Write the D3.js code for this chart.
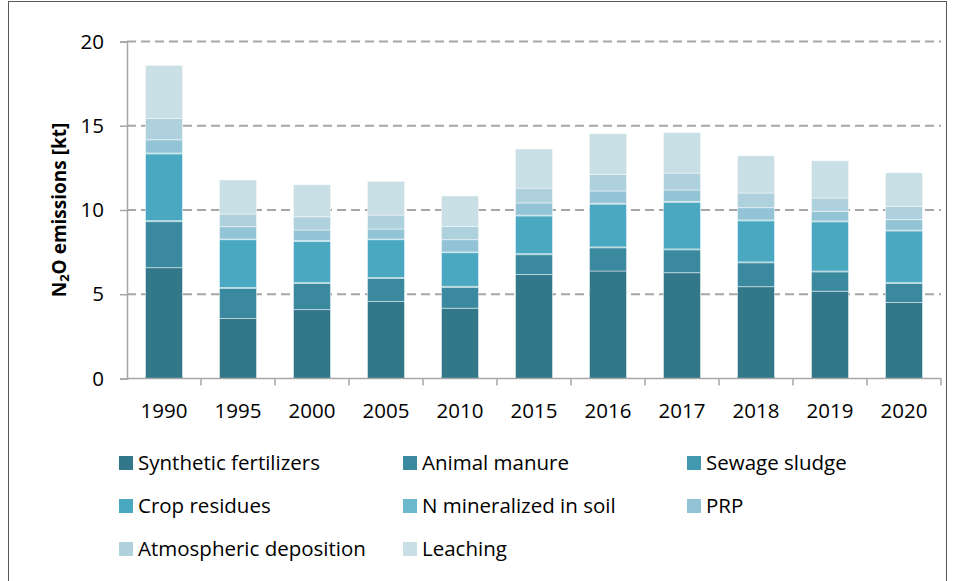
<!DOCTYPE html>
<html>
<head>
<meta charset="utf-8">
<script src="https://cdn.jsdelivr.net/npm/d3@7"></script>
<style>
  html, body { margin: 0; padding: 0; background: #fff; }
  svg { display: block; font-family: "Open Sans", "Noto Sans", sans-serif; }
</style>
</head>
<body>
<svg id="chart" width="954" height="581"></svg>
<script>
// Agricultural N2O emissions by source, kt
const years = ["1990", "1995", "2000", "2005", "2010", "2015", "2016", "2017", "2018", "2019", "2020"];
const syntheticFertilizers = [6.58, 3.56, 4.09, 4.57, 4.17, 6.17, 6.38, 6.28, 5.45, 5.18, 4.51];
const animalManure        = [2.73, 1.79, 1.55, 1.37, 1.24, 1.18, 1.38, 1.36, 1.42, 1.15, 1.13];
const sewageSludge        = [0.06, 0.05, 0.05, 0.05, 0.06, 0.06, 0.05, 0.05, 0.05, 0.05, 0.05];
const cropResidues        = [3.96, 2.84, 2.45, 2.25, 2.00, 2.24, 2.54, 2.77, 2.44, 2.92, 3.07];
const nMineralized        = [0.05, 0.04, 0.04, 0.04, 0.04, 0.05, 0.05, 0.05, 0.05, 0.05, 0.05];
const prp                 = [0.79, 0.73, 0.63, 0.59, 0.73, 0.72, 0.73, 0.68, 0.73, 0.57, 0.62];
const atmDeposition       = [1.26, 0.75, 0.79, 0.83, 0.79, 0.88, 0.98, 1.00, 0.87, 0.79, 0.79];
const leaching            = [3.15, 2.02, 1.90, 2.00, 1.80, 2.32, 2.42, 2.41, 2.21, 2.21, 1.99];

const seriesNames = ["Synthetic fertilizers", "Animal manure", "Sewage sludge", "Crop residues",
                     "N mineralized in soil", "PRP", "Atmospheric deposition", "Leaching"];
const seriesValues = [syntheticFertilizers, animalManure, sewageSludge, cropResidues,
                      nMineralized, prp, atmDeposition, leaching];
const seriesColors = ["#33778a", "#3a899e", "#4199af", "#4aa8c1",
                      "#6bb7cc", "#93c4d5", "#afd1dd", "#c9dfe6"];
const yTicks = [0, 5, 10, 15, 20];

const rows = years.map((y, i) => {
  const r = { year: y };
  seriesNames.forEach((n, k) => { r[n] = seriesValues[k][i]; });
  return r;
});

const svg = d3.select("#chart");
const plot = { left: 127, right: 941, top: 41.5, bottom: 378.5 };
const fontSize = 20.5;

// outer frame
svg.append("rect")
  .attr("x", 8.5).attr("y", 1.5).attr("width", 938).attr("height", 590)
  .attr("fill", "none").attr("stroke", "#595959").attr("stroke-width", 1);

const x = d3.scaleBand().domain(years).range([plot.left, plot.right]).paddingInner(0.5).paddingOuter(0.25);
const y = d3.scaleLinear().domain([0, 20]).range([plot.bottom, plot.top]);

// dashed gridlines
svg.append("g").selectAll("line")
  .data(yTicks.filter(t => t > 0))
  .join("line")
  .attr("x1", plot.left).attr("x2", plot.right)
  .attr("y1", d => y(d)).attr("y2", d => y(d))
  .attr("stroke", "#a6a6a6").attr("stroke-width", 2).attr("stroke-dasharray", "9,5");

// stacked bars
const stack = d3.stack().keys(seriesNames);
const layers = stack(rows);
svg.append("g").selectAll("g")
  .data(layers)
  .join("g")
  .attr("fill", (d, i) => seriesColors[i])
  .selectAll("rect")
  .data(d => d)
  .join("rect")
  .attr("x", d => x(d.data.year))
  .attr("width", x.bandwidth())
  .attr("y", d => y(d[1]))
  .attr("height", d => y(d[0]) - y(d[1]))
  .attr("stroke", "rgba(255,255,255,0.45)")
  .attr("stroke-width", 1);

// y axis
const yAxis = svg.append("g").attr("transform", `translate(${plot.left},0)`)
  .call(d3.axisLeft(y).tickValues(yTicks).tickSize(7).tickPadding(16));
yAxis.select(".domain").attr("stroke", "#a6a6a6").attr("stroke-width", 1.5);
yAxis.selectAll(".tick line").attr("stroke", "#a6a6a6").attr("stroke-width", 1.5);
yAxis.selectAll(".tick text").attr("font-size", fontSize).attr("fill", "#000")
  .attr("font-family", "Open Sans, sans-serif");

// x axis: ticks sit between categories
const xAxisG = svg.append("g").attr("transform", `translate(0,${plot.bottom})`);
xAxisG.append("line").attr("x1", plot.left).attr("x2", plot.right)
  .attr("stroke", "#a6a6a6").attr("stroke-width", 1.5);
const step = x.step();
xAxisG.selectAll("line.tick")
  .data(years)
  .join("line")
  .attr("class", "tick")
  .attr("x1", (d, i) => plot.left + (i + 1) * step)
  .attr("x2", (d, i) => plot.left + (i + 1) * step)
  .attr("y1", 0).attr("y2", 7)
  .attr("stroke", "#a6a6a6").attr("stroke-width", 1.5);
xAxisG.selectAll("text")
  .data(years)
  .join("text")
  .attr("x", d => x(d) + x.bandwidth() / 2)
  .attr("y", 39)
  .attr("text-anchor", "middle")
  .attr("font-size", fontSize)
  .attr("fill", "#000")
  .text(d => d);

// y axis title
const title = svg.append("text")
  .attr("transform", `translate(66,${(plot.top + plot.bottom) / 2}) rotate(-90)`)
  .attr("text-anchor", "middle")
  .attr("font-size", 19).attr("font-weight", "bold").attr("fill", "#000");
title.append("tspan").text("N");
title.append("tspan").text("2").attr("font-size", 13).attr("dy", 3);
title.append("tspan").text("O emissions [kt]").attr("dy", -3);

// legend, three columns
const legendCols = [119, 403, 687];
const legendRows = [463, 506, 549];
const legend = svg.append("g").selectAll("g")
  .data(seriesNames)
  .join("g")
  .attr("transform", (d, i) => `translate(${legendCols[i % 3]},${legendRows[Math.floor(i / 3)]})`);
legend.append("rect")
  .attr("x", 0).attr("y", -7).attr("width", 14).attr("height", 14)
  .attr("fill", (d, i) => seriesColors[i]);
legend.append("text")
  .attr("x", 19).attr("y", 0).attr("dy", "0.35em")
  .attr("font-size", fontSize).attr("fill", "#000")
  .text(d => d);
</script>
</body>
</html>
